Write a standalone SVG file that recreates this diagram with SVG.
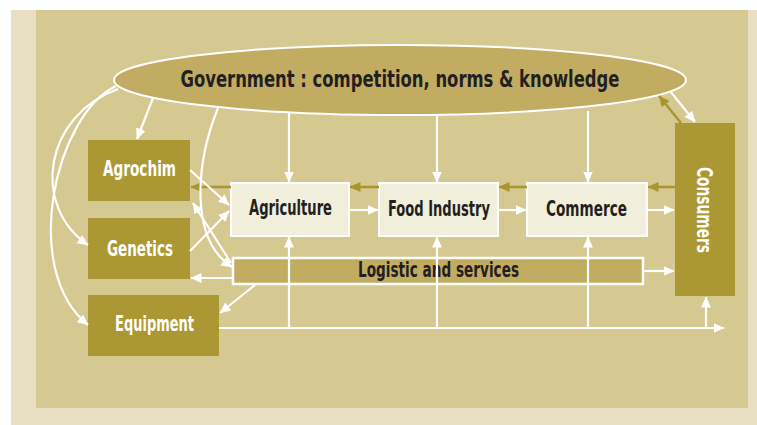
<svg xmlns="http://www.w3.org/2000/svg" width="757" height="425" viewBox="0 0 757 425">
<defs>
<style>
.t{font-family:"Liberation Sans Narrow","DejaVu Sans Condensed","Liberation Sans",Arial,sans-serif;font-weight:bold;font-stretch:condensed;text-anchor:middle}
.dk{fill:#231f20}
.wt{fill:#ffffff}
.olive{fill:#ab9834}
.light{fill:#f2eedc;stroke:#ffffff;stroke-width:2}
.wa{stroke:#ffffff;stroke-width:2.2;fill:none;marker-end:url(#aw)}
.oa{stroke:#a8952f;stroke-width:2.5;fill:none;marker-end:url(#ao)}
</style>
<marker id="aw" markerUnits="userSpaceOnUse" markerWidth="11" markerHeight="11" viewBox="0 0 11 11" refX="10.5" refY="5.5" orient="auto">
<path d="M0,0.5 L11,5.5 L0,10.5 z" fill="#ffffff"/>
</marker>
<marker id="ao" markerUnits="userSpaceOnUse" markerWidth="11" markerHeight="11" viewBox="0 0 11 11" refX="10.5" refY="5.5" orient="auto">
<path d="M0,0.5 L11,5.5 L0,10.5 z" fill="#a8952f"/>
</marker>
</defs>
<rect x="0" y="0" width="757" height="425" fill="#ffffff"/>
<rect x="11" y="10" width="746" height="415" fill="#e9e0c3"/>
<rect x="36" y="10" width="712" height="398" fill="#d6c891"/>

<g id="government">
<ellipse cx="400" cy="80" rx="286" ry="35" fill="#c2ac62" stroke="#ffffff" stroke-width="2"/>
<text class="t dk" x="400" y="87" font-size="23" textLength="439" lengthAdjust="spacingAndGlyphs">Government : competition, norms &amp; knowledge</text>
</g>
<g id="agrochim">
<rect class="olive" x="88" y="140" width="102" height="61"/>
<text class="t wt" x="139.5" y="176" font-size="20.5" textLength="73" lengthAdjust="spacingAndGlyphs">Agrochim</text>
</g>
<g id="genetics">
<rect class="olive" x="88" y="218" width="102" height="61"/>
<text class="t wt" x="140" y="256" font-size="20.5" textLength="66" lengthAdjust="spacingAndGlyphs">Genetics</text>
</g>
<g id="equipment">
<rect class="olive" x="88" y="295" width="131" height="61"/>
<text class="t wt" x="154.5" y="331" font-size="20.5" textLength="79" lengthAdjust="spacingAndGlyphs">Equipment</text>
</g>
<g id="agriculture">
<rect class="light" x="231" y="183" width="118" height="53"/>
<text class="t dk" x="290.5" y="215" font-size="20.5" textLength="83" lengthAdjust="spacingAndGlyphs">Agriculture</text>
</g>
<g id="food-industry">
<rect class="light" x="379" y="183" width="119" height="53"/>
<text class="t dk" x="439" y="216" font-size="20.5" textLength="102" lengthAdjust="spacingAndGlyphs">Food Industry</text>
</g>
<g id="commerce">
<rect class="light" x="527" y="183" width="120" height="53"/>
<text class="t dk" x="586.5" y="216" font-size="20.5" textLength="81" lengthAdjust="spacingAndGlyphs">Commerce</text>
</g>
<g id="consumers">
<rect class="olive" x="675" y="123" width="60" height="173"/>
<text class="t wt" transform="translate(697,210) rotate(90)" x="0" y="0" font-size="20.5" textLength="86" lengthAdjust="spacingAndGlyphs">Consumers</text>
</g>
<g id="logistics">
<rect x="233" y="258" width="410" height="26" fill="#c2ac62" stroke="#ffffff" stroke-width="2.5"/>
<text class="t dk" x="438.5" y="277" font-size="20.5" textLength="161" lengthAdjust="spacingAndGlyphs">Logistic and services</text>
</g>

<g id="connectors">
<path class="wa" d="M153,98 L137,139"/>
<path class="wa" d="M289,112 V182"/>
<path class="wa" d="M437,115 V182"/>
<path class="wa" d="M588,111 V182"/>
<path class="wa" d="M670,91 L695,122"/>
<path class="oa" d="M681,123 L659,96"/>
<path class="oa" d="M675,187 H648"/>
<path class="oa" d="M527,187 H499"/>
<path class="oa" d="M379,187 H350"/>
<path class="oa" d="M231,187 H191"/>
<path class="wa" d="M350,210 H378"/>
<path class="wa" d="M498,210 H526"/>
<path class="wa" d="M647,210 H674"/>
<path class="wa" d="M643,271 H674"/>
<path class="wa" d="M190,170 L229,205"/>
<path class="wa" d="M190,251 L229,211"/>
<path class="wa" d="M231,263 L193,203"/>
<path class="wa" d="M233,278 H191"/>
<path class="wa" d="M255,285 L220,313"/>
<path class="wa" d="M218,108 C195,165 190,240 232,267"/>
<path class="wa" d="M118,89 C45,115 30,205 88,245"/>
<path class="wa" d="M116,86 C55,115 20,270 88,325"/>
<path class="wa" d="M219,328 H724"/>
<path class="wa" d="M289,328 V237"/>
<path class="wa" d="M437,328 V237"/>
<path class="wa" d="M588,328 V237"/>
<path class="wa" d="M706,328 V297"/>
</g>
</svg>
